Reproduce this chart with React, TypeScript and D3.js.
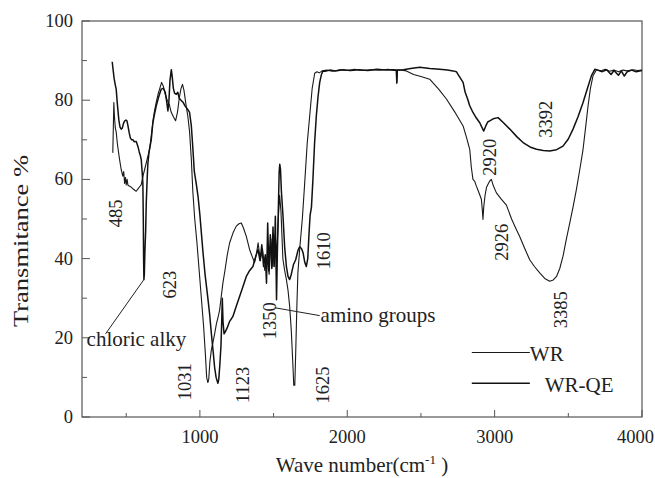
import * as d3 from 'd3';

// [wavenumber cm-1, transmittance %]
const wrData: [number, number][] = [
  [409, 66.7], [412, 72], [416, 79.4], [420, 76], [426, 73], [432, 72], [440, 69], [455, 65], [466, 62.5],
  [477, 60.8], [483, 62], [489, 59], [495, 60.5], [500, 58.6], [506, 60], [512, 58.5], [523, 58.3],
  [535, 58], [550, 57.5], [560, 57.2], [568, 57], [580, 57.6], [592, 58.2], [602, 58.7], [615, 61],
  [625, 62.5], [636, 64.2], [648, 66], [659, 67.6], [670, 71], [682, 75], [693, 77.5], [704, 79.5],
  [716, 81.5], [728, 83], [740, 84.5], [752, 83.5], [765, 81.5], [778, 80], [792, 79], [805, 77],
  [820, 75.8], [835, 74.8], [848, 77], [860, 80.5], [872, 83], [882, 84], [892, 82.5], [905, 79],
  [918, 76], [930, 72], [942, 65], [952, 57], [965, 50], [980, 44], [995, 37], [1010, 30], [1025, 23],
  [1037, 16], [1046, 10], [1054, 8.7], [1060, 9.5], [1068, 14], [1078, 17], [1088, 18.7], [1100, 21],
  [1112, 23.5], [1122, 25], [1134, 27], [1145, 30.5], [1156, 33.8], [1170, 37], [1186, 41], [1202, 44],
  [1225, 46.5], [1247, 48.2], [1265, 48.8], [1281, 49], [1295, 47.8], [1315, 45.6], [1337, 42.3],
  [1355, 40.5], [1371, 39], [1383, 41], [1395, 44], [1410, 39.5], [1425, 42.5], [1440, 37],
  [1455, 40], [1470, 36], [1482, 45], [1495, 38], [1510, 46], [1522, 41], [1532, 50], [1541, 56],
  [1550, 52], [1563, 40], [1575, 37], [1587, 34.7], [1598, 32], [1609, 28], [1620, 22], [1630, 14],
  [1637, 8], [1644, 8], [1650, 16], [1658, 28], [1665, 36.4], [1677, 42.3], [1695, 50], [1711, 59],
  [1728, 69], [1745, 76], [1762, 83], [1779, 86.8], [1795, 87.2], [1810, 86.9], [1830, 87.4],
  [1860, 87.6], [1900, 87.3], [1950, 87.7], [2000, 87.5], [2050, 87.8], [2100, 87.5], [2160, 87.7],
  [2220, 87.6], [2280, 87.8], [2320, 87.5], [2333, 87.6], [2336, 84.2], [2340, 87.6], [2370, 87.6],
  [2401, 87.4], [2450, 86.5], [2500, 86], [2559, 85.3], [2620, 82.8], [2673, 80.3], [2730, 77],
  [2786, 73.5], [2810, 70.5], [2831, 67.6], [2842, 63], [2853, 60], [2865, 59.5], [2876, 58.3],
  [2890, 57], [2900, 56], [2910, 55], [2916, 52.5], [2921, 49.9], [2926, 53], [2935, 56], [2945, 58],
  [2955, 58.8], [2967, 59.6], [2978, 60], [2990, 58.5], [3012, 56.6], [3045, 55], [3080, 53.5],
  [3115, 50], [3148, 47.3], [3170, 45.6], [3205, 42.5], [3238, 39.7], [3270, 38], [3306, 36.4],
  [3340, 35], [3374, 34.3], [3398, 34.6], [3420, 35.5], [3442, 37.5], [3464, 40.6], [3487, 45],
  [3510, 49], [3532, 53], [3555, 57.5], [3578, 62.5], [3600, 67.6], [3617, 73], [3634, 78.6],
  [3650, 83], [3668, 86.2], [3691, 87.7], [3720, 87.4], [3750, 87.8], [3780, 87.3], [3810, 87.6],
  [3840, 87.2], [3870, 87.6], [3900, 87.4], [3940, 87.7], [3970, 87.5], [4000, 87.6],
];

const wrqeData: [number, number][] = [
  [405, 89.7], [410, 88], [418, 85.5], [425, 84], [432, 82.8], [440, 79], [450, 75], [458, 73.2],
  [466, 72.7], [474, 73], [482, 74.2], [490, 74.8], [498, 75], [505, 74.8], [512, 73.5], [520, 71.8],
  [528, 70.5], [537, 70], [545, 70], [555, 69.5], [568, 69.6], [579, 68.4], [588, 67], [596, 66],
  [602, 65], [608, 62], [613, 59], [616, 50], [618, 40], [620, 34.7], [623, 36], [627, 42], [632, 47],
  [636, 54], [642, 60], [647, 64], [655, 67], [670, 70], [681, 74.3], [692, 76.5], [704, 78.6],
  [720, 80.8], [738, 82.8], [752, 83], [765, 82], [775, 79.5], [783, 77.3], [790, 80], [797, 85],
  [806, 87.7], [812, 86], [820, 83], [828, 81.8], [840, 81.5], [850, 82], [860, 80.5], [872, 80],
  [885, 79.5], [900, 78.5], [915, 77.8], [930, 76.9], [942, 73.5], [952, 68], [962, 62], [975, 59],
  [988, 55.5], [1000, 51], [1010, 46.5], [1020, 42], [1035, 36], [1054, 30], [1066, 26], [1078, 21],
  [1090, 16.5], [1100, 12.5], [1110, 10], [1122, 8.5], [1128, 9.5], [1135, 13], [1143, 18], [1148, 24],
  [1152, 30], [1157, 24], [1164, 21], [1172, 21.5], [1185, 22.5], [1200, 24], [1224, 25.4], [1245, 27.8],
  [1270, 30.5], [1293, 33], [1315, 35.5], [1338, 37], [1360, 38], [1378, 40.5], [1394, 42.3], [1408, 39.5],
  [1420, 43.5], [1432, 38], [1444, 41], [1452, 33.8], [1460, 49], [1468, 37], [1478, 46], [1488, 37.5],
  [1496, 48], [1504, 38], [1512, 50.7], [1520, 29.6], [1526, 42], [1532, 52], [1538, 62], [1542, 63.8],
  [1547, 62.5], [1553, 57], [1564, 50.7], [1575, 43], [1587, 38], [1598, 35.5], [1609, 34.7], [1620, 36],
  [1635, 38.5], [1650, 39.7], [1665, 42], [1677, 43], [1690, 42.5], [1700, 41.5], [1712, 39], [1722, 38],
  [1732, 40], [1740, 46], [1748, 51], [1757, 53], [1767, 60], [1778, 69], [1790, 76], [1802, 81],
  [1813, 84.5], [1825, 86.5], [1835, 87.4], [1850, 87.3], [1880, 87.6], [1920, 87.4], [1970, 87.7],
  [2020, 87.5], [2080, 87.7], [2140, 87.5], [2200, 87.8], [2260, 87.6], [2310, 87.7], [2333, 87.6],
  [2336, 84.5], [2340, 87.6], [2380, 87.7], [2430, 88], [2492, 88.3], [2560, 88], [2627, 87.8],
  [2680, 87.6], [2718, 87.4], [2740, 87.2], [2760, 86], [2786, 84.5], [2800, 82], [2815, 80.5],
  [2831, 78.6], [2853, 76.9], [2876, 75.5], [2899, 74.3], [2913, 73.2], [2926, 72.2], [2940, 73.5],
  [2953, 74.5], [2967, 74.8], [2990, 75.3], [3023, 75.6], [3060, 74.3], [3103, 72.7], [3150, 70.8],
  [3193, 69.3], [3240, 68.2], [3284, 67.6], [3330, 67.3], [3374, 67.2], [3420, 67.5], [3464, 68.4],
  [3500, 70.2], [3532, 72.7], [3566, 75.8], [3600, 79.4], [3630, 83], [3657, 86.2], [3680, 87.8],
  [3700, 87.6], [3730, 87.2], [3760, 87.7], [3790, 86.5], [3810, 87.5], [3840, 86.3], [3860, 87.4],
  [3880, 86.1], [3900, 87.2], [3930, 87.6], [3960, 87.2], [4000, 87.5],
];

const xTicks = [1000, 2000, 3000, 4000];
const xMinorTicks = [500, 1500, 2500, 3500];
const yTicks = [0, 20, 40, 60, 80, 100];
const yMinorTicks = [10, 30, 50, 70, 90];

// peak labels, placed at [wavenumber, transmittance]
const peakLabels: { text: string; v: number; t: number }[] = [
  { text: '485', v: 434, t: 51.4 },
  { text: '623', v: 794, t: 33.4 },
  { text: '1031', v: 896, t: 8.9 },
  { text: '1123', v: 1290, t: 8.1 },
  { text: '1350', v: 1473, t: 24.3 },
  { text: '1625', v: 1833, t: 8.1 },
  { text: '1610', v: 1840, t: 42 },
  { text: '2920', v: 2967, t: 65.6 },
  { text: '2926', v: 3048, t: 44.1 },
  { text: '3392', v: 3347, t: 75.2 },
  { text: '3385', v: 3449, t: 27.1 },
];

const seriesNames = ['WR', 'WR-QE'];

const FONT = "'Liberation Serif', 'Times New Roman', serif";

export default function App() {
  const width = 655;
  const height = 478;
  const x = d3.scaleLinear().domain([200, 4000]).range([82, 642]);
  const y = d3.scaleLinear().domain([0, 100]).range([417, 21]);
  const line = d3.line<[number, number]>().x(d => x(d[0])).y(d => y(d[1]));

  const [x0, x1] = x.range();
  const [y0, y1] = y.range();

  return (
    <div style={{ position: 'fixed', left: 0, top: 0 }}>
      <svg width={width} height={height} style={{ display: 'block', background: '#fff' }} fontFamily={FONT}>
        {/* frame */}
        <rect x={x0} y={y1} width={x1 - x0} height={y0 - y1} fill="none" stroke="#555" strokeWidth={1.2} />

        {/* x ticks */}
        {xTicks.map((v, i) => {
          const last = i === xTicks.length - 1;
          return (
            <g key={'xt' + v}>
              <line x1={x(v)} x2={x(v)} y1={y0} y2={y0 - 7} stroke="#555" />
              <text
                x={last ? width - 1 : x(v)}
                y={y0 + 26}
                textAnchor={last ? 'end' : 'middle'}
                fontSize={18.5}
                fill="#222"
              >
                {v}
              </text>
            </g>
          );
        })}
        {xMinorTicks.map(v => (
          <line key={'xm' + v} x1={x(v)} x2={x(v)} y1={y0} y2={y0 - 4} stroke="#555" />
        ))}

        {/* y ticks */}
        {yTicks.map(t => (
          <g key={'yt' + t}>
            <line x1={x0} x2={x0 + 8} y1={y(t)} y2={y(t)} stroke="#555" />
            <text x={x0 - 9} y={y(t)} textAnchor="end" dominantBaseline="central" fontSize={18.5} fill="#222">{t}</text>
          </g>
        ))}
        {yMinorTicks.map(t => (
          <line key={'ym' + t} x1={x0} x2={x0 + 5} y1={y(t)} y2={y(t)} stroke="#555" />
        ))}

        {/* axis titles */}
        <text
          transform={`translate(21, 241) rotate(-90)`}
          textAnchor="middle"
          dominantBaseline="central"
          fontSize={21}
          fill="#222"
          textLength={172}
          lengthAdjust="spacingAndGlyphs"
        >
          Transmitance %
        </text>
        <text x={(x0 + x1) / 2} y={472} textAnchor="middle" fontSize={21} fill="#222">
          Wave number(cm<tspan dy={-8} fontSize={13}>-1</tspan>
          <tspan dy={8}> )</tspan>
        </text>

        {/* spectra */}
        <path d={line(wrData) ?? ''} fill="none" stroke="#1a1a1a" strokeWidth={1.1} strokeLinejoin="round" />
        <path d={line(wrqeData) ?? ''} fill="none" stroke="#111" strokeWidth={1.5} strokeLinejoin="round" />

        {/* peak labels */}
        {peakLabels.map(p => (
          <text
            key={p.text}
            transform={`translate(${x(p.v)}, ${y(p.t)}) rotate(-90)`}
            textAnchor="middle"
            dominantBaseline="central"
            fontSize={18.5}
            fill="#222"
          >
            {p.text}
          </text>
        ))}

        {/* chloric alky annotation */}
        <line x1={x(620)} y1={y(34.7)} x2={x(360)} y2={y(21)} stroke="#222" strokeWidth={1} />
        <text x={x(231)} y={y(18)} fontSize={21} fill="#222">chloric alky</text>

        {/* amino groups annotation */}
        <line x1={x(1507)} y1={y(27.6)} x2={x(1813)} y2={y(25.6)} stroke="#222" strokeWidth={1} />
        <text x={x(1819)} y={y(24)} fontSize={21} fill="#222">amino groups</text>

        {/* legend */}
        {seriesNames.map((name, i) => {
          const ty = i === 0 ? 16.3 : 8.5;
          return (
            <g key={name}>
              <line
                x1={x(2845)}
                x2={x(3239)}
                y1={y(ty)}
                y2={y(ty)}
                stroke={i === 0 ? '#1a1a1a' : '#111'}
                strokeWidth={i === 0 ? 1.1 : 1.5}
              />
              <text x={i === 0 ? x(3239) : x(3340)} y={y(ty) + 9} fontSize={21} fill="#222">{name}</text>
            </g>
          );
        })}
      </svg>
    </div>
  );
}
